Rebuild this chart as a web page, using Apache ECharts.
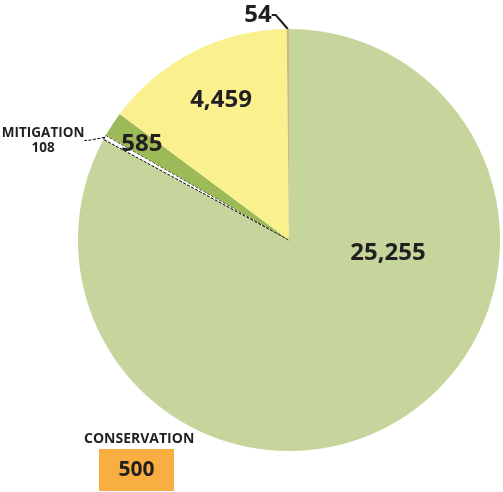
<!DOCTYPE html>
<html><head><meta charset="utf-8">
<script src="https://cdn.jsdelivr.net/npm/echarts@6/dist/echarts.min.js"></script>
<style>html,body{margin:0;padding:0;background:#fff}#c{width:503px;height:492px}</style>
</head><body><div id="c"></div>
<script>
const categories = ['Main', 'Mitigation', 'Green', 'Yellow', 'Tan'];
const values = [25255, 108, 585, 4459, 54];
const sliceColors = ['#C6D59B', '#FFFFFF', '#9DBA59', '#FAF08E', '#D8B57C'];
const conservationLabel = 'CONSERVATION';
const conservationValue = 500;

const fmt = v => v.toLocaleString('en-US');
const FONT = 'Open Sans';
const TXT = '#231F20';
const CX = 289, CY = 240;

const data = values.map((v, i) => {
  const d = {name: categories[i], value: v, itemStyle: {color: sliceColors[i]}};
  if (i === 1) {
    d.itemStyle.borderColor = '#000';
    d.itemStyle.borderType = [3, 1.5];
    d.itemStyle.borderWidth = 1;
    d.label = {
      position: 'outside',
      formatter: 'MITIGATION\n' + fmt(v),
      fontSize: 13.5, fontWeight: 'bold', lineHeight: 15
    };
    d.labelLine = {show: true, length: 6, length2: 4, lineStyle: {color: '#000', width: 1, type: [3, 1.5]}};
  }
  if (i === 2) d.label = {position: 'inside'};
  if (i === 4) {
    d.labelLine = {show: true, length: 6, length2: 4, lineStyle: {color: TXT, width: 2}};
  }
  return d;
});

function layout(p) {
  const i = p.dataIndex, r = p.labelRect;
  const mx = r.x + r.width / 2, my = r.y + r.height / 2;
  if (i === 0) return {x: 388, y: 253, align: 'center', verticalAlign: 'middle'};
  if (i === 3) return {x: 221, y: 100, align: 'center', verticalAlign: 'middle'};
  if (i === 4) return {x: 258, y: 15, align: 'center', verticalAlign: 'middle'};
  if (i === 2) {
    const k = 1.62;
    return {x: CX + (mx - CX) * k, y: CY + (my - CY) * k, align: 'center', verticalAlign: 'middle'};
  }
  if (i === 1) return {x: mx - 6, y: my + 6, align: 'center', verticalAlign: 'middle'};
  return null;
}

const chart = echarts.init(document.getElementById('c'), null, {renderer: 'canvas'});
chart.setOption({
  animation: false,
  series: [{
    type: 'pie',
    center: [CX, CY],
    radius: 211,
    startAngle: 90,
    clockwise: true,
    avoidLabelOverlap: false,
    label: {
      show: true,
      position: 'outside',
      formatter: p => fmt(p.value),
      fontFamily: FONT, fontWeight: 'bold', fontSize: 24, color: TXT
    },
    labelLine: {show: false},
    labelLayout: layout,
    itemStyle: {borderWidth: 0},
    emphasis: {disabled: true},
    data: data
  }],
  graphic: [
    {type: 'text', left: 84, top: 432,
     style: {text: conservationLabel, font: 'bold 14px "Open Sans"', fill: TXT}},
    {type: 'group', left: 99, top: 449, children: [
      {type: 'rect', shape: {x: 0, y: 0, width: 75, height: 42}, style: {fill: '#F9AE41'}},
      {type: 'text', x: 37.5, y: 21, style: {text: String(conservationValue), font: 'bold 21px "Open Sans"', fill: TXT, align: 'center', verticalAlign: 'middle'}}
    ]}
  ]
});
</script></body></html>
